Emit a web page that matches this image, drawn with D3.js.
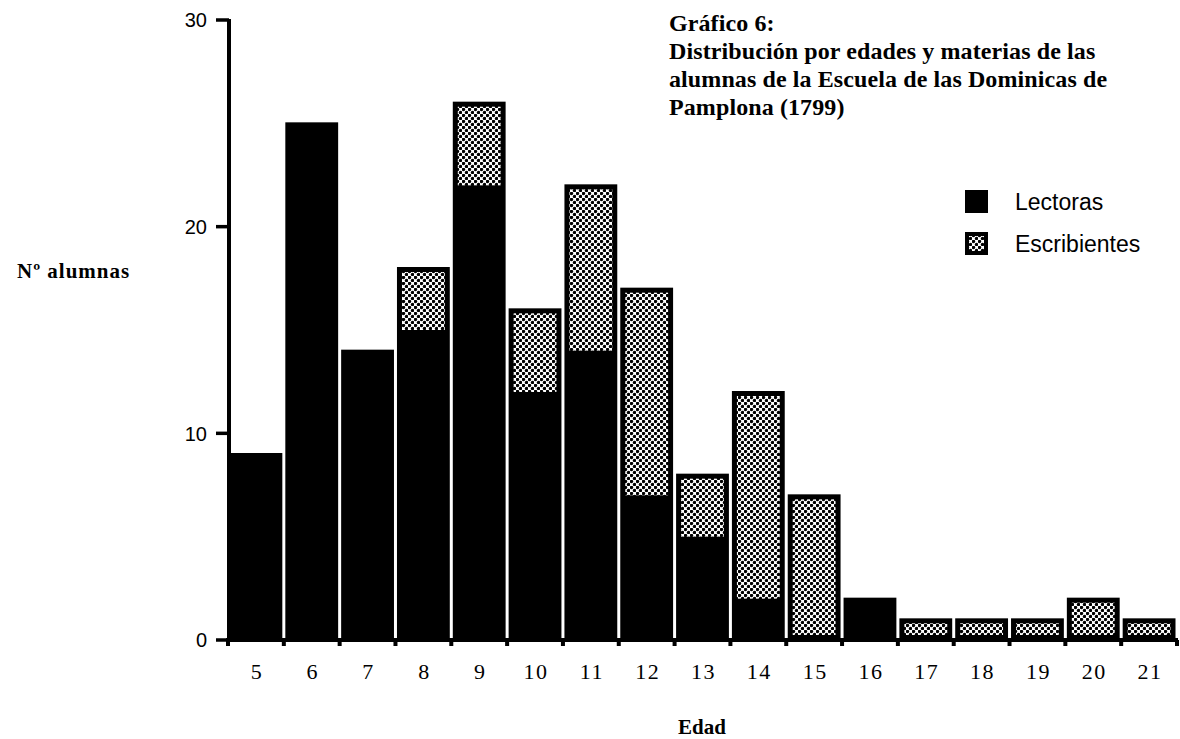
<!DOCTYPE html>
<html><head><meta charset="utf-8">
<script src="https://cdn.jsdelivr.net/npm/d3@7"></script>
<style>body{margin:0;background:#fff}svg{display:block}</style>
</head><body>
<svg id="c" width="1180" height="739"></svg>
<script>
const ages = ["5","6","7","8","9","10","11","12","13","14","15","16","17","18","19","20","21"];
const lectoras     = [9,25,14,15,22,12,14,7,5,2,0,2,0,0,0,0,0];
const escribientes = [0,0,0,3,4,4,8,10,3,10,7,0,1,1,1,2,1];
const yTicks = [0,10,20,30];
const titleLines = ["Gráfico 6:","Distribución por edades y materias de las","alumnas de la Escuela de las Dominicas de","Pamplona (1799)"];
const legendItems = ["Lectoras","Escribientes"];

const svg = d3.select("#c");
const defs = svg.append("defs");
const pat = defs.append("pattern").attr("id","dots").attr("patternUnits","userSpaceOnUse")
  .attr("width",6).attr("height",6);
pat.append("rect").attr("width",6).attr("height",6).attr("fill","#fff");
[[1.5,1.5],[4.5,4.5]].forEach(([cx,cy])=>pat.append("circle").attr("cx",cx).attr("cy",cy).attr("r",1.7).attr("fill","#000"));

const x = d3.scaleBand().domain(ages).range([228,1177]).padding(0);
const y = d3.scaleLinear().domain([0,30]).range([640,20]);

const data = ages.map((a,i)=>({age:a,l:lectoras[i],e:escribientes[i],t:lectoras[i]+escribientes[i]}));
const bw = 5;
const g = svg.append("g");
data.forEach(d=>{
  const x0 = x(d.age)+1.5, w = x.bandwidth()-3;
  g.append("rect").attr("x",x0).attr("y",y(d.t)-1).attr("width",w).attr("height",y(0)-y(d.t)+1).attr("fill","#000");
  if(d.e>0){
    const top = y(d.t)+bw-1;
    const bot = d.l>0 ? y(d.l) : y(0)-bw;
    g.append("rect").attr("x",x0+bw).attr("y",top).attr("width",w-2*bw).attr("height",Math.max(0,bot-top)).attr("fill","url(#dots)");
  }
});

// axes
svg.append("line").attr("x1",229).attr("x2",229).attr("y1",y(30)-1).attr("y2",y(0)+2).attr("stroke","#000").attr("stroke-width",4);
svg.append("line").attr("x1",226).attr("x2",1178).attr("y1",y(0)).attr("y2",y(0)).attr("stroke","#000").attr("stroke-width",4);
yTicks.forEach(t=>{
  svg.append("line").attr("x1",216).attr("x2",229).attr("y1",y(t)).attr("y2",y(t)).attr("stroke","#000").attr("stroke-width",3.5);
  svg.append("text").attr("x",207).attr("y",y(t)).attr("dy","0.36em").attr("text-anchor","end")
    .attr("font-family","Liberation Sans, Arial, sans-serif").attr("font-size",20).text(t);
});
// x ticks at band boundaries
const bounds = ages.map(a=>x(a)).concat([x(ages[ages.length-1])+x.bandwidth()]);
bounds.forEach(b=>{
  svg.append("rect").attr("x",b-2).attr("y",y(0)).attr("width",4).attr("height",6).attr("fill","#000");
});
ages.forEach(a=>{
  svg.append("text").attr("x",x(a)+x.bandwidth()/2+1).attr("y",679).attr("text-anchor","middle")
    .attr("font-family","Liberation Serif, Times New Roman, serif").attr("font-size",22).attr("letter-spacing",1.5).text(a);
});
svg.append("text").attr("x",702).attr("y",734).attr("text-anchor","middle")
  .attr("font-family","Liberation Serif, serif").attr("font-weight","bold").attr("font-size",21).text("Edad");
svg.append("text").attr("x",17).attr("y",278)
  .attr("font-family","Liberation Serif, serif").attr("font-weight","bold").attr("font-size",21).attr("letter-spacing",1).text("Nº alumnas");

// title
titleLines.forEach((s,i)=>{
  svg.append("text").attr("x",669).attr("y",31+i*28)
    .attr("font-family","Liberation Serif, serif").attr("font-weight","bold").attr("font-size",24).attr("letter-spacing",0.1).text(s);
});

// legend
legendItems.forEach((s,i)=>{
  const ly = 190 + i*42;
  svg.append("rect").attr("x",965).attr("y",ly).attr("width",23).attr("height",23).attr("fill","#000");
  if(i===1) svg.append("rect").attr("x",969).attr("y",ly+4).attr("width",15).attr("height",15).attr("fill","url(#dots)");
  svg.append("text").attr("x",1015).attr("y",ly+11.5).attr("dy","0.36em")
    .attr("font-family","Liberation Sans, Arial, sans-serif").attr("font-size",23).text(s);
});
</script>
</body></html>
